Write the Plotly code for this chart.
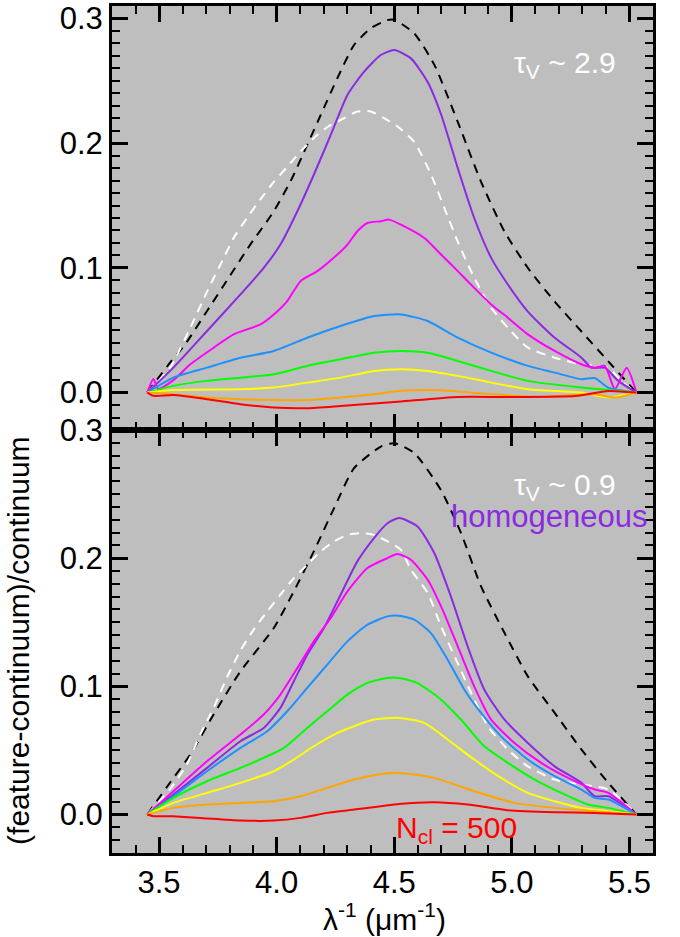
import plotly.graph_objects as go

# ---------------- data: top panel (tau_V ~ 2.9) ----------------
TOP_BLACK_X = [3.45, 3.547, 3.611, 3.704, 3.796, 3.888, 3.988, 4.066, 4.130, 4.194, 4.258, 4.329, 4.400, 4.471, 4.50,
               4.585, 4.67, 4.77, 4.869, 4.969, 5.068, 5.182, 5.296, 5.41, 5.53]
TOP_BLACK_Y = [0.0, 0.024, 0.0387, 0.0654, 0.0921, 0.1187, 0.1454, 0.1721, 0.1987, 0.2254, 0.2521, 0.2787, 0.2921, 0.2987, 0.2990,
               0.288, 0.263, 0.217, 0.169, 0.129, 0.100, 0.073, 0.049, 0.025, 0.0]

TOP_WHITE_X = [3.45, 3.547, 3.633, 3.704, 3.775, 3.817, 3.874, 3.931, 3.988, 4.045, 4.102, 4.173, 4.23, 4.286, 4.343, 4.40,
               4.457, 4.514, 4.585, 4.656, 4.713, 4.77, 4.84, 4.912, 4.983, 5.068, 5.182, 5.296, 5.41, 5.466, 5.53]
TOP_WHITE_Y = [0.0, 0.020, 0.052, 0.081, 0.108, 0.124, 0.140, 0.155, 0.169, 0.181, 0.1934, 0.2067, 0.2147, 0.220, 0.2254, 0.2254,
               0.220, 0.2134, 0.201, 0.175, 0.148, 0.121, 0.092, 0.068, 0.052, 0.036, 0.028, 0.0227, 0.020, 0.009, 0.0]

TOP_PURPLE_X = [3.45, 3.561, 3.704, 3.846, 3.945, 4.016, 4.088, 4.158, 4.23, 4.301, 4.372, 4.443, 4.50, 4.571, 4.642, 4.699,
                4.77, 4.84, 4.912, 4.983, 5.068, 5.182, 5.296, 5.338, 5.395, 5.452, 5.53]
TOP_PURPLE_Y = [0.0, 0.020, 0.0494, 0.0787, 0.100, 0.1187, 0.1454, 0.1747, 0.2067, 0.2387, 0.2574, 0.2707, 0.2747, 0.268, 0.249, 0.223,
                0.180, 0.140, 0.108, 0.0867, 0.065, 0.044, 0.028, 0.020, 0.020, 0.0094, 0.0]

TOP_MAGENTA_X = [3.45, 3.476, 3.497, 3.561, 3.633, 3.732, 3.817, 3.931, 3.988, 4.045, 4.102, 4.173, 4.258, 4.301, 4.343, 4.386,
                 4.443, 4.478, 4.528, 4.628, 4.699, 4.77, 4.84, 4.912, 4.983, 5.068, 5.182, 5.296, 5.352, 5.395, 5.438,
                 5.488, 5.53]
TOP_MAGENTA_Y = [0.0, 0.011, 0.003, 0.010, 0.0227, 0.036, 0.0467, 0.0547, 0.0627, 0.0734, 0.0894, 0.0974, 0.1107, 0.1187, 0.1294, 0.136,
                 0.1374, 0.1387, 0.1347, 0.124, 0.1107, 0.0974, 0.084, 0.0707, 0.060, 0.0467, 0.0334, 0.0227, 0.020, 0.0214, 0.0027,
                 0.020, 0.0]

TOP_BLUE_X = [3.45, 3.561, 3.704, 3.846, 3.988, 4.13, 4.272, 4.414, 4.528, 4.642, 4.77, 4.912, 5.068, 5.182, 5.296, 5.352, 5.41, 5.53]
TOP_BLUE_Y = [0.0, 0.012, 0.020, 0.028, 0.0334, 0.044, 0.0534, 0.0614, 0.0627, 0.0574, 0.044, 0.032, 0.0214, 0.016, 0.0107, 0.0117, 0.004, 0.0]

TOP_GREEN_X = [3.45, 3.561, 3.704, 3.846, 3.988, 4.13, 4.272, 4.414, 4.528, 4.642, 4.77, 4.912, 5.068, 5.296, 5.53]
TOP_GREEN_Y = [0.0, 0.0054, 0.0094, 0.012, 0.0147, 0.0214, 0.0267, 0.032, 0.0334, 0.032, 0.0254, 0.0174, 0.0094, 0.004, 0.0]

TOP_YELLOW_X = [3.45, 3.561, 3.846, 3.988, 4.13, 4.272, 4.414, 4.528, 4.642, 4.77, 4.912, 5.068, 5.296, 5.41, 5.53]
TOP_YELLOW_Y = [0.0, 0.002, 0.0027, 0.004, 0.008, 0.012, 0.0174, 0.0187, 0.0174, 0.0134, 0.008, 0.0027, 0.0, -0.004, 0.0]

TOP_ORANGE_X = [3.45, 3.561, 3.704, 3.846, 3.988, 4.13, 4.272, 4.414, 4.528, 4.70, 4.912, 5.125, 5.352, 5.44, 5.53]
TOP_ORANGE_Y = [0.0, -0.0013, -0.004, -0.0053, -0.006, -0.006, -0.004, -0.0013, 0.0014, 0.0019, -0.0013, -0.0035, -0.0013, -0.004, 0.0]

TOP_RED_X = [3.45, 3.476, 3.561, 3.704, 3.846, 3.988, 4.13, 4.272, 4.414, 4.528, 4.77, 4.98, 5.27, 5.41, 5.53]
TOP_RED_Y = [0.0, -0.0026, -0.0019, -0.0053, -0.0093, -0.012, -0.0125, -0.0107, -0.0087, -0.0071, -0.0035, -0.0035, -0.0027, 0.0013, 0.0]

# ---------------- data: bottom panel (tau_V ~ 0.9) ----------------
BOT_BLACK_X = [3.45, 3.547, 3.633, 3.732, 3.846, 3.988, 4.073, 4.158, 4.244, 4.329, 4.443, 4.50,
               4.585, 4.699, 4.784, 4.869, 4.969, 5.068, 5.182, 5.296, 5.41, 5.53]
BOT_BLACK_Y = [0.0, 0.025, 0.0468, 0.078, 0.1117, 0.1455, 0.1741, 0.2053, 0.239, 0.2702, 0.2871, 0.2897,
               0.282, 0.253, 0.2195, 0.178, 0.1416, 0.1078, 0.0793, 0.0507, 0.0247, 0.0]

BOT_WHITE_X = [3.45, 3.547, 3.618, 3.675, 3.732, 3.789, 3.846, 3.903, 3.96, 4.016, 4.073, 4.13, 4.187, 4.244, 4.301, 4.357,
               4.414, 4.471, 4.528, 4.571, 4.642, 4.699, 4.77, 4.827, 4.898, 4.983, 5.068, 5.182, 5.296, 5.41, 5.53]
BOT_WHITE_Y = [0.0, 0.020, 0.039, 0.0624, 0.0832, 0.1071, 0.1279, 0.1445, 0.1585, 0.1715, 0.1845, 0.1949, 0.2053, 0.2131, 0.2182, 0.2195,
               0.2182, 0.2131, 0.2066, 0.191, 0.1728, 0.1468, 0.118, 0.0948, 0.0688, 0.0507, 0.0376, 0.0273, 0.0234, 0.0195, 0.0]

BOT_PURPLE_X = [3.45, 3.561, 3.704, 3.846, 3.945, 4.016, 4.073, 4.13, 4.201, 4.272, 4.343, 4.414, 4.471, 4.521, 4.599, 4.67,
                4.741, 4.812, 4.883, 4.969, 5.068, 5.182, 5.296, 5.352, 5.41, 5.53]
BOT_PURPLE_Y = [0.0, 0.0156, 0.0364, 0.0572, 0.0676, 0.0832, 0.104, 0.1247, 0.1455, 0.1715, 0.1975, 0.2157, 0.2273, 0.2313, 0.2247, 0.204,
                0.170, 0.1312, 0.0974, 0.074, 0.0559, 0.0376, 0.0247, 0.0143, 0.0143, 0.0]

BOT_MAGENTA_X = [3.45, 3.561, 3.704, 3.846, 3.945, 4.016, 4.088, 4.158, 4.23, 4.301, 4.386, 4.471, 4.514, 4.571, 4.642, 4.699,
                 4.77, 4.84, 4.912, 5.011, 5.125, 5.239, 5.352, 5.41, 5.53]
BOT_MAGENTA_Y = [0.0, 0.0182, 0.0416, 0.0624, 0.078, 0.0936, 0.1143, 0.1351, 0.1533, 0.1741, 0.1923, 0.2001, 0.2032, 0.1988, 0.1832, 0.1624,
                 0.1312, 0.100, 0.074, 0.0559, 0.0403, 0.0286, 0.0195, 0.0169, 0.0]

BOT_BLUE_X = [3.45, 3.561, 3.704, 3.846, 3.96, 4.045, 4.13, 4.215, 4.301, 4.386, 4.471, 4.521, 4.585, 4.656, 4.727, 4.798,
              4.869, 4.954, 5.068, 5.182, 5.296, 5.352, 5.41, 5.53]
BOT_BLUE_Y = [0.0, 0.0143, 0.0338, 0.052, 0.065, 0.0806, 0.0988, 0.117, 0.1351, 0.1481, 0.1546, 0.1551, 0.152, 0.1416, 0.1208, 0.0974,
              0.0793, 0.061, 0.0429, 0.0299, 0.0195, 0.013, 0.0117, 0.0]

BOT_GREEN_X = [3.45, 3.561, 3.704, 3.846, 3.945, 4.031, 4.13, 4.215, 4.301, 4.386, 4.471, 4.521, 4.599, 4.699, 4.784, 4.883,
               4.983, 5.097, 5.21, 5.324, 5.41, 5.53]
BOT_GREEN_Y = [0.0, 0.013, 0.026, 0.0364, 0.0442, 0.052, 0.0676, 0.0806, 0.0936, 0.1027, 0.1066, 0.1066, 0.1026, 0.0896, 0.074, 0.0532,
               0.0403, 0.0273, 0.0169, 0.0078, 0.0052, 0.0]

BOT_YELLOW_X = [3.45, 3.561, 3.704, 3.846, 3.988, 4.073, 4.158, 4.244, 4.329, 4.414, 4.521, 4.628, 4.727, 4.84, 4.954, 5.068,
                5.182, 5.296, 5.41, 5.53]
BOT_YELLOW_Y = [0.0, 0.0091, 0.0169, 0.0247, 0.0338, 0.0429, 0.0533, 0.0624, 0.0689, 0.0741, 0.0754, 0.0715, 0.0585, 0.0429, 0.0286, 0.0169,
                0.0104, 0.0052, 0.0026, 0.0]

BOT_ORANGE_X = [3.45, 3.561, 3.704, 3.846, 3.988, 4.102, 4.215, 4.329, 4.414, 4.521, 4.67, 4.84, 5.011, 5.182, 5.352, 5.53]
BOT_ORANGE_Y = [0.0, 0.0052, 0.0078, 0.0091, 0.0104, 0.0143, 0.0208, 0.0273, 0.0307, 0.0325, 0.0286, 0.0182, 0.0091, 0.0052, 0.0026, 0.0]

BOT_RED_X = [3.45, 3.476, 3.561, 3.704, 3.846, 3.988, 4.102, 4.215, 4.329, 4.443, 4.521, 4.67, 4.812, 4.98, 5.182, 5.352, 5.53]
BOT_RED_Y = [0.0, -0.0013, -0.0013, -0.0031, -0.0047, -0.0047, -0.0026, 0.0013, 0.0039, 0.0065, 0.0083, 0.0096, 0.0078, 0.0034, 0.0018, 0.0013, 0.0]

# ---------------- axes / labels ----------------
X_RANGE = [3.3, 5.6]
TOP_Y_RANGE = [-0.03, 0.31]
BOT_Y_RANGE = [-0.03, 0.30]
X_TICK0, X_DTICK, X_MINOR = 3.5, 0.5, 0.1
Y_TICK0, Y_DTICK, Y_MINOR = 0.0, 0.1, 0.01

FONT = "Liberation Sans, Arial, Helvetica, sans-serif"
BG = "#bebebe"
PURPLE = "#8a2be2"
MAGENTA = "#ff00ff"
BLUE = "#1e90ff"
GREEN = "#00ff00"
YELLOW = "#ffff00"
ORANGE = "#ffa500"
RED = "#ff0000"

fig = go.Figure()

def add(x, y, color, xa, ya, dash=None):
    line = dict(color=color, width=2, shape="spline", smoothing=0.6)
    if dash:
        line["dash"] = dash
    fig.add_trace(go.Scatter(x=x, y=y, mode="lines", line=line, xaxis=xa, yaxis=ya,
                             showlegend=False, hoverinfo="skip"))

DASH = "9px,7px"
panels = [
    ("x", "y", [(TOP_BLACK_X, TOP_BLACK_Y, "black", DASH), (TOP_WHITE_X, TOP_WHITE_Y, "white", DASH),
                (TOP_PURPLE_X, TOP_PURPLE_Y, PURPLE, None), (TOP_MAGENTA_X, TOP_MAGENTA_Y, MAGENTA, None),
                (TOP_BLUE_X, TOP_BLUE_Y, BLUE, None), (TOP_GREEN_X, TOP_GREEN_Y, GREEN, None),
                (TOP_YELLOW_X, TOP_YELLOW_Y, YELLOW, None), (TOP_ORANGE_X, TOP_ORANGE_Y, ORANGE, None),
                (TOP_RED_X, TOP_RED_Y, RED, None)]),
    ("x2", "y2", [(BOT_BLACK_X, BOT_BLACK_Y, "black", DASH), (BOT_WHITE_X, BOT_WHITE_Y, "white", DASH),
                  (BOT_PURPLE_X, BOT_PURPLE_Y, PURPLE, None), (BOT_MAGENTA_X, BOT_MAGENTA_Y, MAGENTA, None),
                  (BOT_BLUE_X, BOT_BLUE_Y, BLUE, None), (BOT_GREEN_X, BOT_GREEN_Y, GREEN, None),
                  (BOT_YELLOW_X, BOT_YELLOW_Y, YELLOW, None), (BOT_ORANGE_X, BOT_ORANGE_Y, ORANGE, None),
                  (BOT_RED_X, BOT_RED_Y, RED, None)]),
]
for xa, ya, curves in panels:
    for cx, cy, col, d in curves:
        add(cx, cy, col, xa, ya, d)

TICKFONT = dict(family=FONT, size=31, color="black")

def xaxis(anchor, labels):
    return dict(anchor=anchor, domain=[0, 1], range=X_RANGE, tickmode="linear", tick0=X_TICK0, dtick=X_DTICK,
                tickformat=".1f", showticklabels=labels, ticks="inside", ticklen=16, tickwidth=3,
                tickcolor="black", showline=True, linewidth=3, linecolor="black", mirror="ticks",
                showgrid=False, zeroline=False, tickfont=TICKFONT, automargin=False,
                minor=dict(tick0=X_TICK0, dtick=X_MINOR, ticks="inside", ticklen=8, tickwidth=2,
                           tickcolor="black", showgrid=False))

def yaxis(anchor, dom, rng):
    return dict(anchor=anchor, domain=dom, range=rng, tickmode="linear", tick0=Y_TICK0, dtick=Y_DTICK,
                tickformat=".1f", ticks="inside", ticklen=16, tickwidth=3, tickcolor="black",
                showline=True, linewidth=3, linecolor="black", mirror="ticks", showgrid=False,
                zeroline=False, tickfont=TICKFONT, automargin=False,
                minor=dict(tick0=Y_TICK0, dtick=Y_MINOR, ticks="inside", ticklen=8, tickwidth=2,
                           tickcolor="black", showgrid=False))

SPLIT = 0.4994
fig.update_layout(
    template="none",
    width=680, height=937, showlegend=False,
    margin=dict(l=112, r=27, t=6, b=84, autoexpand=False),
    paper_bgcolor="white", plot_bgcolor=BG,
    xaxis=xaxis("y", False),
    yaxis=yaxis("x", [SPLIT, 1], TOP_Y_RANGE),
    xaxis2=xaxis("y2", True),
    yaxis2=yaxis("x2", [0, SPLIT], BOT_Y_RANGE),
    font=dict(family=FONT, color="black"),
)

ANN = 30
fig.add_annotation(x=5.453, y=0.263, xref="x", yref="y", xanchor="right", yanchor="middle", showarrow=False,
                   text="τ<sub>V</sub> ~ 2.9", font=dict(family=FONT, size=ANN, color="white"))
fig.add_annotation(x=5.453, y=0.2557, xref="x2", yref="y2", xanchor="right", yanchor="middle", showarrow=False,
                   text="τ<sub>V</sub> ~ 0.9", font=dict(family=FONT, size=ANN, color="white"))
fig.add_annotation(x=5.586, y=0.2323, xref="x2", yref="y2", xanchor="right", yanchor="middle", showarrow=False,
                   text="homogeneous", font=dict(family=FONT, size=31, color=PURPLE))
fig.add_annotation(x=4.498, y=-0.012, xref="x2", yref="y2", xanchor="left", yanchor="middle", showarrow=False,
                   text="N<sub>cl</sub> = 500", font=dict(family=FONT, size=ANN, color=RED))

fig.add_annotation(x=-0.172, y=0.2515, xref="paper", yref="paper", xanchor="center", yanchor="middle",
                   showarrow=False, textangle=-90, text="(feature-continuum)/continuum",
                   font=dict(family=FONT, size=30, color="black"))
fig.add_annotation(x=0.503, y=-0.0756, xref="paper", yref="paper", xanchor="center", yanchor="middle",
                   showarrow=False, text="λ<sup>-1</sup> (μm<sup>-1</sup>)",
                   font=dict(family=FONT, size=30, color="black"))

fig.write_html("out.html", config={"displayModeBar": False},
               post_script="document.body.style.margin='0';")
